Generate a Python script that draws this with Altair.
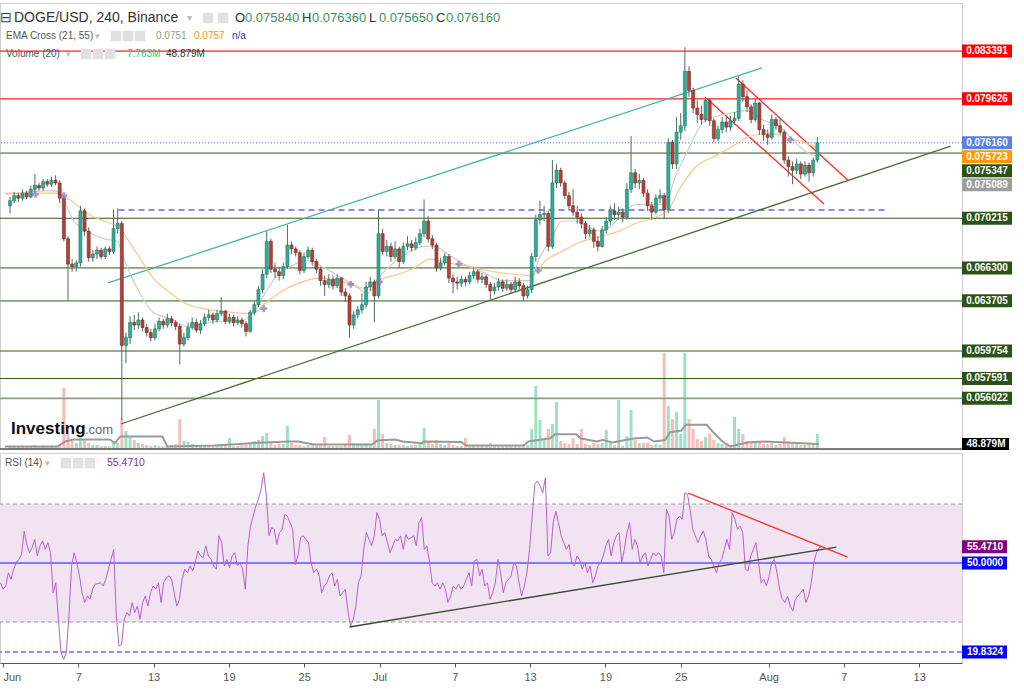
import altair as alt
import pandas as pd

alt.data_transformers.disable_max_rows()

# ---------------- data ----------------
T0 = pd.Timestamp("2022-06-01 00:00")
first_open = 0.0712
# 8-hour candles, three per day, from Jun 1
close = [
 0.0716,0.0720,0.0718, 0.0722,0.0719,0.0725, 0.0728,0.0726,0.0731, 0.0729,0.0732,0.0730,
 0.0718,0.0686,0.0666, 0.0664,0.0667,0.0708, 0.0692,0.0671,0.0674, 0.0677,0.0672,0.0678,
 0.0676,0.0694,0.0698, 0.0602,0.0608,0.0620, 0.0618,0.0622,0.0616, 0.0612,0.0608,0.0615,
 0.0621,0.0618,0.0623, 0.0620,0.0617,0.0603, 0.0608,0.0616,0.0620, 0.0614,0.0619,0.0624,
 0.0626,0.0622,0.0627, 0.0629,0.0621,0.0624, 0.0620,0.0622,0.0619, 0.0613,0.0628,0.0634,
 0.0646,0.0658,0.0684, 0.0662,0.0660,0.0657, 0.0664,0.0681,0.0678, 0.0675,0.0661,0.0672,
 0.0677,0.0668,0.0662, 0.0653,0.0650,0.0654, 0.0649,0.0655,0.0644, 0.0641,0.0618,0.0626,
 0.0630,0.0634,0.0648, 0.0652,0.0641,0.0690, 0.0676,0.0680,0.0672, 0.0678,0.0668,0.0680,
 0.0682,0.0679,0.0683, 0.0690,0.0700,0.0686, 0.0681,0.0663,0.0667, 0.0672,0.0655,0.0652,
 0.0651,0.0654,0.0652, 0.0657,0.0660,0.0654, 0.0656,0.0650,0.0645, 0.0648,0.0652,0.0647,
 0.0650,0.0646,0.0652, 0.0649,0.0641,0.0646, 0.0672,0.0701,0.0705, 0.0706,0.0680,0.0730,
 0.0740,0.0730,0.0720, 0.0712,0.0707,0.0703, 0.0698,0.0690,0.0693, 0.0684,0.0680,0.0693,
 0.0700,0.0708,0.0705, 0.0707,0.0703,0.0725, 0.0738,0.0730,0.0732, 0.0722,0.0712,0.0707,
 0.0718,0.0720,0.0709, 0.0762,0.0745,0.0770, 0.0775,0.0818,0.0803, 0.0789,0.0784,0.0780,
 0.0795,0.0779,0.0765, 0.0772,0.0778,0.0774, 0.0779,0.0781,0.0808, 0.0798,0.0790,0.0780,
 0.0793,0.0772,0.0768, 0.0766,0.0780,0.0775, 0.0770,0.0748,0.0743, 0.0740,0.0745,0.0737,
 0.0744,0.0738,0.0748, 0.07616,
]
high = [
 0.0719,0.0723,0.0722, 0.0725,0.0724,0.0728, 0.0737,0.0730,0.0733, 0.0733,0.0735,0.0736,
 0.0732,0.0719,0.0688, 0.0670,0.0669,0.0712, 0.0710,0.0695,0.0677, 0.0680,0.0679,0.0680,
 0.0680,0.0709,0.0710, 0.0700,0.0612,0.0625, 0.0626,0.0628,0.0624, 0.0619,0.0615,0.0619,
 0.0624,0.0623,0.0627, 0.0625,0.0622,0.0619, 0.0612,0.0620,0.0624, 0.0623,0.0622,0.0627,
 0.0630,0.0628,0.0630, 0.0640,0.0630,0.0627, 0.0626,0.0625,0.0624, 0.0621,0.0630,0.0637,
 0.0649,0.0662,0.0692, 0.0686,0.0667,0.0664, 0.0667,0.0697,0.0684, 0.0680,0.0677,0.0675,
 0.0680,0.0679,0.0670, 0.0664,0.0657,0.0658, 0.0657,0.0658,0.0656, 0.0647,0.0643,0.0629,
 0.0633,0.0643,0.0652, 0.0656,0.0654,0.0709, 0.0694,0.0685,0.0683, 0.0684,0.0680,0.0683,
 0.0688,0.0685,0.0687, 0.0694,0.0717,0.0704, 0.0689,0.0683,0.0671, 0.0675,0.0674,0.0658,
 0.0656,0.0657,0.0656, 0.0660,0.0664,0.0662, 0.0659,0.0658,0.0652, 0.0651,0.0655,0.0654,
 0.0654,0.0652,0.0656, 0.0655,0.0651,0.0649, 0.0675,0.0705,0.0716, 0.0712,0.0708,0.0748,
 0.0745,0.0742,0.0732, 0.0723,0.0725,0.0712, 0.0706,0.0700,0.0697, 0.0695,0.0688,0.0696,
 0.0703,0.0712,0.0714, 0.0711,0.0710,0.0730, 0.0767,0.0741,0.0737, 0.0734,0.0725,0.0715,
 0.0721,0.0725,0.0722, 0.0765,0.0764,0.0782, 0.0785,0.0837,0.0822, 0.0805,0.0795,0.0791,
 0.0798,0.0797,0.0781, 0.0775,0.0782,0.0782, 0.0783,0.0786,0.0814, 0.0811,0.0803,0.0792,
 0.0796,0.0794,0.0776, 0.0772,0.0784,0.0782, 0.0781,0.0772,0.0751, 0.0747,0.0749,0.0747,
 0.0747,0.0746,0.0750, 0.0766,
]
low = [
 0.0706,0.0714,0.0715, 0.0716,0.0717,0.0718, 0.0723,0.0724,0.0724, 0.0727,0.0727,0.0728,
 0.0714,0.0684,0.0637, 0.0660,0.0660,0.0664, 0.0688,0.0668,0.0668, 0.0670,0.0670,0.0670,
 0.0673,0.0674,0.0690, 0.0543,0.0588,0.0603, 0.0614,0.0615,0.0613, 0.0609,0.0605,0.0606,
 0.0613,0.0615,0.0616, 0.0617,0.0614,0.0587, 0.0601,0.0606,0.0614, 0.0612,0.0611,0.0617,
 0.0621,0.0619,0.0620, 0.0625,0.0619,0.0619, 0.0617,0.0618,0.0616, 0.0609,0.0612,0.0626,
 0.0632,0.0643,0.0655, 0.0659,0.0655,0.0653, 0.0654,0.0662,0.0674, 0.0672,0.0658,0.0659,
 0.0670,0.0665,0.0659, 0.0649,0.0641,0.0647, 0.0646,0.0647,0.0641, 0.0636,0.0608,0.0615,
 0.0623,0.0627,0.0631, 0.0645,0.0620,0.0639, 0.0673,0.0672,0.0668, 0.0670,0.0663,0.0666,
 0.0677,0.0676,0.0677, 0.0681,0.0687,0.0683, 0.0678,0.0660,0.0661, 0.0665,0.0651,0.0643,
 0.0646,0.0648,0.0649, 0.0650,0.0654,0.0651, 0.0651,0.0647,0.0638, 0.0642,0.0645,0.0644,
 0.0645,0.0643,0.0644, 0.0646,0.0637,0.0639, 0.0643,0.0668,0.0697, 0.0700,0.0676,0.0678,
 0.0726,0.0727,0.0717, 0.0709,0.0704,0.0698, 0.0694,0.0686,0.0687, 0.0679,0.0676,0.0679,
 0.0690,0.0697,0.0701, 0.0701,0.0699,0.0701, 0.0722,0.0726,0.0725, 0.0719,0.0708,0.0701,
 0.0705,0.0714,0.0702, 0.0706,0.0741,0.0741, 0.0764,0.0771,0.0798, 0.0785,0.0777,0.0776,
 0.0778,0.0775,0.0762, 0.0763,0.0769,0.0770, 0.0771,0.0776,0.0779, 0.0794,0.0786,0.0777,
 0.0778,0.0768,0.0763, 0.0760,0.0764,0.0772, 0.0768,0.0745,0.0735, 0.0729,0.0737,0.0733,
 0.0735,0.0731,0.0735, 0.0746,
]
volume_m = [
 30,25,30, 35,25,30, 40,30,35, 30,35,30,
 40,610,150, 80,60,120, 100,60,40, 40,30,30,
 30,80,60, 310,180,120, 90,60,50, 40,30,40,
 30,30,30, 40,50,300, 80,70,50, 40,30,40,
 30,40,30, 40,40,110, 30,30,40, 40,60,80,
 90,130,160, 60,40,50, 50,230,60, 40,40,30,
 40,50,40, 40,120,30, 30,30,30, 40,140,60,
 40,50,60, 40,200,490, 150,60,50, 40,40,40,
 30,40,40, 60,210,80, 50,90,50, 40,60,40,
 30,30,110, 30,40,30, 30,40,60, 40,30,30,
 30,30,40, 30,40,40, 200,630,290, 100,200,250,
 470,80,60, 50,110,50, 200,50,40, 60,50,60,
 190,70,40, 490,30,130, 390,90,60, 60,60,40,
 50,40,960, 430,300,370, 150,960,300, 200,100,80,
 120,150,90, 60,50,50, 40,320,200, 150,80,60,
 80,70,50, 50,60,40, 50,120,80, 60,50,40,
 40,50,60, 150,
]
# volume moving average (20), (day, millions)
vma_day = [-0.24, 3.98, 4.62, 5.26, 8.21, 8.61, 9.04, 12.43, 12.83, 16.65, 19.6, 22.55, 23.35, 24.62, 29.32,
           29.72, 31.16, 31.79, 33.31, 33.55, 36.49, 36.89, 41.51, 41.91, 43.67, 44.06, 45.74, 46.14, 47.41,
           47.89, 48.69, 49.08, 50.36, 51.47, 52.03, 52.91, 53.31, 54.18, 54.58, 56.25, 56.73, 57.53, 58.17,
           58.8, 59.68, 60.96, 63.9, 65.3]
vma_val = [25, 25, 75, 95, 95, 58, 125, 125, 25, 35, 58, 75, 75, 45, 45,
           85, 95, 75, 58, 75, 70, 35, 35, 75, 108, 148, 148, 105, 75,
           90, 65, 75, 105, 115, 75, 90, 168, 182, 242, 242, 175, 75, 25,
           45, 68, 75, 58, 48.879]
# EMA 55 (orange) and EMA 21 (grey), (day, price)
ema55_day = [-0.2, 3.8, 4.4, 5.1, 6.4, 7.7, 8.9, 10.4, 11.7, 13.1, 14.3, 15.7, 17.1, 19.7, 20.7, 22.1, 23.4,
             25.0, 26.1, 27.4, 28.7, 30.0, 31.4, 32.7, 34.0, 35.4, 36.7, 38.0, 39.8, 42.2, 43.3, 44.6, 46.0,
             47.8, 49.2, 50.5, 51.8, 53.1, 54.0, 55.3, 56.9, 58.2, 59.8, 61.4, 62.9, 64.1, 65.3]
ema55_val = [0.0722, 0.0722, 0.0720, 0.0716, 0.0706, 0.0700, 0.0695, 0.0674, 0.0655, 0.0643, 0.0635, 0.0631,
             0.0629, 0.0627, 0.0635, 0.0645, 0.0651, 0.0655, 0.0654, 0.0651, 0.0647, 0.0654, 0.0658, 0.0663,
             0.0670, 0.0667, 0.0665, 0.0662, 0.0659, 0.0657, 0.0669, 0.0676, 0.0683, 0.0688, 0.0692, 0.0698,
             0.0702, 0.0708, 0.0724, 0.0742, 0.0751, 0.0758, 0.0767, 0.0769, 0.0765, 0.0762, 0.0757]
ema21_day = [-0.2, 3.8, 4.4, 5.3, 6.4, 7.7, 8.8, 9.3, 10.4, 11.7, 13.1, 14.3, 15.7, 17.1, 18.3, 19.7, 20.7,
             21.5, 22.9, 24.2, 25.5, 26.9, 28.2, 29.0, 29.8, 30.8, 32.2, 33.5, 34.3, 35.4, 36.7, 38.0, 39.8,
             42.0, 42.8, 43.8, 44.6, 45.7, 46.8, 47.8, 49.2, 50.5, 51.8, 52.9, 53.7, 54.7, 56.1, 57.7, 59.5,
             60.9, 61.9, 63.5, 64.5, 65.3]
ema21_val = [0.0721, 0.0724, 0.0718, 0.0700, 0.0692, 0.0686, 0.0684, 0.0671, 0.0647, 0.0628, 0.0623, 0.0617,
             0.0619, 0.0621, 0.0620, 0.0627, 0.0643, 0.0655, 0.0665, 0.0669, 0.0663, 0.0655, 0.0647, 0.0643,
             0.0655, 0.0665, 0.0675, 0.0680, 0.0680, 0.0674, 0.0666, 0.0661, 0.0653, 0.0653, 0.0671, 0.0687,
             0.0700, 0.0700, 0.0695, 0.0692, 0.0702, 0.0713, 0.0713, 0.0713, 0.0734, 0.0755, 0.0779, 0.0784,
             0.0787, 0.0779, 0.0776, 0.0761, 0.0753, 0.0751]
cross_day = [2.2, 4.5, 20.6, 27.6, 29.9, 36.3, 42.7, 63.0]
cross_val = [0.0721, 0.0720, 0.0631, 0.0650, 0.0652, 0.0666, 0.0661, 0.0764]

# RSI(14), regular samples from May 31 19:12 every 302 minutes
rsi = [
 43.3,41.1,42.2,46.7,44.5,47.9,50.1,51.2,52.9,60.8,56.3,53.5,55.2,58.0,52.4,55.8,57.5,54.6,56.9,53.5,
 39.9,43.3,30.9,19.6,17.3,19.6,32.0,49.0,53.5,50.1,45.6,39.9,36.6,38.8,37.7,41.1,42.8,43.0,43.3,42.2,
 44.5,47.9,51.2,54.6,32.0,21.9,22.4,30.9,33.2,32.0,36.6,33.2,35.4,30.9,36.6,38.8,35.4,39.9,42.2,41.1,
 43.3,36.6,43.3,45.0,45.6,44.5,39.9,35.4,37.7,44.5,47.9,46.7,49.0,47.3,50.1,54.1,52.4,51.8,55.8,52.4,
 51.2,49.0,47.9,59.2,56.9,49.0,51.2,48.4,52.4,53.5,49.0,50.1,47.9,41.1,55.8,62.5,65.9,69.3,71.6,75.0,
 80.6,72.7,59.2,62.0,61.4,56.3,60.3,61.4,66.5,65.9,63.7,61.4,49.5,52.4,58.6,59.2,58.0,56.9,50.1,46.7,
 47.9,46.2,39.9,42.2,43.3,45.6,46.7,42.2,44.5,38.8,39.9,41.1,33.7,28.6,30.9,35.4,43.3,45.6,54.6,60.3,
 58.0,55.8,59.2,67.1,64.8,59.2,60.3,56.9,53.5,55.8,58.0,57.5,59.2,54.6,59.7,58.0,58.6,59.2,55.8,63.7,
 65.4,54.6,55.8,50.1,43.3,42.2,43.3,41.1,43.3,41.1,36.6,38.8,42.2,41.1,42.8,41.1,42.2,44.5,46.7,42.2,
 50.7,51.2,45.6,47.9,42.2,43.3,37.7,39.9,43.3,51.2,46.7,39.9,43.3,44.5,45.6,50.1,49.0,43.3,38.8,42.2,
 46.7,54.6,65.9,76.7,77.8,76.1,73.8,78.9,52.4,53.5,63.7,67.6,63.7,59.2,56.9,54.6,56.3,50.1,49.0,52.4,
 51.2,47.9,50.1,46.7,49.0,43.3,45.6,49.0,50.1,52.4,55.8,58.0,52.4,56.9,59.2,60.3,50.1,54.6,60.3,63.7,
 54.6,58.0,55.8,50.1,52.4,53.5,49.0,51.2,53.5,52.4,53.5,52.4,46.7,68.2,65.9,58.0,60.3,64.8,65.9,64.8,
 73.8,73.3,68.2,61.4,59.2,56.9,59.2,60.8,58.0,52.4,51.2,49.0,46.7,50.1,51.2,54.6,58.0,54.6,67.1,64.8,
 61.4,62.5,60.3,47.9,47.3,52.4,54.6,56.9,50.1,43.3,44.5,42.2,45.6,50.1,51.2,46.7,41.1,37.7,36.6,38.8,
 35.4,33.7,37.7,38.8,39.9,41.1,36.6,38.8,43.3,50.1,53.5,55.2,55.471,
]

# horizontal levels
red_levels = [0.083391, 0.079626]
green_dark_levels = [0.070215, 0.059754, 0.057591]
green_light_levels = [0.075347, 0.066300, 0.063705, 0.056022]
last_price = 0.076160
blue_dash_level = 0.07087
blue_dash_days = [8.9, 70.9]

# trend lines (day, price) pairs
trend_id = ["teal", "teal", "green", "green", "redup", "redup", "redlo", "redlo"]
trend_col = ["#45b7a0", "#45b7a0", "#4d6b3c", "#4d6b3c", "#ff2a2a", "#ff2a2a", "#ff2a2a", "#ff2a2a"]
trend_day = [8.05, 60.7, 9.08, 75.9, 58.6, 67.7, 56.3, 65.7]
trend_val = [0.06512, 0.08206, 0.0540, 0.07591, 0.08127, 0.07316, 0.07962, 0.07134]
rsi_trend_id = ["black", "black", "red", "red"]
rsi_trend_col = ["#3b4a36", "#3b4a36", "#ff3030", "#ff3030"]
rsi_trend_day = [27.6, 66.4, 54.6, 67.3]
rsi_trend_val = [28.3, 55.4, 73.7, 52.0]

# right-axis value labels
price_label_vals = [0.083391, 0.079626, 0.076160, 0.075723, 0.075347, 0.075089, 0.070215,
                    0.066300, 0.063705, 0.059754, 0.057591, 0.056022]
price_label_cols = ["#ff0000", "#ff0000", "#5b80e8", "#ff9800", "#2b5217", "#9e9e9e", "#2b5217",
                    "#2b5217", "#2b5217", "#2b5217", "#2b5217", "#2b5217"]
rsi_label_vals = [55.4710, 50.0, 19.8324]
rsi_label_cols = ["#800080", "#0000ff", "#0000ff"]
vol_label_val = 48.879

title_main = "DOGE/USD, 240, Binance"
ohlc_keys = ["O", "H", "L", "C"]
ohlc_vals = ["0.075840", "0.076360", "0.075650", "0.076160"]

x_tick_days = [0, 6, 12, 18, 24, 30, 36, 42, 48, 54, 61, 67, 73]

# ---------------- build tables ----------------
def tstamp(day):
    return T0 + pd.Timedelta(hours=day * 24)

opens = [first_open] + close[:-1]
cd = pd.DataFrame({
    "t": [T0 + pd.Timedelta(hours=8 * i + 4) for i in range(len(close))],
    "open": opens, "close": close,
})
cd["high"] = [max(h, o, c) for h, o, c in zip(high, opens, close)]
cd["low"] = [min(l, o, c) for l, o, c in zip(low, opens, close)]
cd["up"] = cd["close"] >= cd["open"]
cd["vol"] = volume_m

vma = pd.DataFrame({"t": [tstamp(d) for d in vma_day], "v": vma_val})
e55 = pd.DataFrame({"t": [tstamp(d) for d in ema55_day], "p": ema55_val})
e21 = pd.DataFrame({"t": [tstamp(d) for d in ema21_day], "p": ema21_val})
crs = pd.DataFrame({"t": [tstamp(d) for d in cross_day], "p": cross_val})
rsi_df = pd.DataFrame({"t": pd.date_range("2022-05-31 19:12", periods=len(rsi), freq="302min"), "r": rsi})

tr = pd.DataFrame({"id": trend_id, "col": trend_col, "t": [tstamp(d) for d in trend_day], "p": trend_val})
rtr = pd.DataFrame({"id": rsi_trend_id, "col": rsi_trend_col, "t": [tstamp(d) for d in rsi_trend_day],
                    "r": rsi_trend_val})

PMIN, PMAX = 0.052030, 0.087182
TOP_H, BOT_H, W = 446, 210, 962
gap = 14 * (PMAX - PMIN) / TOP_H
order = sorted(range(len(price_label_vals)), key=lambda i: -price_label_vals[i])
pos, prev = {}, None
for i in order:
    v = price_label_vals[i]
    p = v if prev is None else min(v, prev - gap)
    pos[i] = p
    prev = p
plab = pd.DataFrame({
    "pos": [pos[i] for i in range(len(price_label_vals))],
    "txt": [f"{v:.6f}" for v in price_label_vals],
    "col": price_label_cols,
})
rlab = pd.DataFrame({"pos": rsi_label_vals, "txt": [f"{v:.4f}" for v in rsi_label_vals], "col": rsi_label_cols})

FONT = "Liberation Sans"
XDOM = [alt.DateTime(year=2022, month=5, date=31, hours=18, minutes=16),
        alt.DateTime(year=2022, month=8, date=16, hours=9, minutes=50)]
xs = alt.Scale(domain=XDOM)
ys = alt.Scale(domain=[PMIN, PMAX], nice=False, zero=False)
rs = alt.Scale(domain=[16.1, 87.29], nice=False, zero=False)
vs = alt.Scale(domain=[0, 4460], nice=False)


def X(f="t"):
    return alt.X(f"{f}:T", scale=xs, axis=None)


def P(f="p", axis=None):
    return alt.Y(f"{f}:Q", scale=ys, axis=axis)


one = pd.DataFrame({"a": [0]})

# ---------------- top panel ----------------
price_axis = alt.Axis(orient="right", values=[round(0.054 + 0.002 * k, 3) for k in range(17)], format=".6f",
                      grid=False, labelColor="#555", labelFont=FONT, labelFontSize=10, tickSize=4,
                      tickColor="#555", domainColor="#555", labelPadding=3, title=None)

levels = pd.DataFrame({
    "p": red_levels + green_dark_levels + green_light_levels,
    "col": ["#ff2020"] * len(red_levels) + ["#2e5a1c"] * len(green_dark_levels)
           + ["#8aa27c"] * len(green_light_levels),
    "w": [1.1] * len(red_levels) + [1.1] * len(green_dark_levels) + [1.7] * len(green_light_levels),
})
lev_rules = alt.Chart(levels).mark_rule().encode(
    y=P("p", price_axis),
    color=alt.Color("col:N", scale=None),
    strokeWidth=alt.StrokeWidth("w:Q", scale=None),
)
last_rule = alt.Chart(pd.DataFrame({"p": [last_price]})).mark_rule(
    color="#3f63e6", strokeDash=[1, 2], strokeWidth=1).encode(y=P())
blue_dash = alt.Chart(pd.DataFrame({"t": [tstamp(blue_dash_days[0])], "t2": [tstamp(blue_dash_days[1])],
                                    "p": [blue_dash_level]})).mark_rule(
    color="#6464ff", strokeDash=[6, 4], strokeWidth=1.5).encode(x=X(), x2="t2:T", y=P())

trends = alt.Chart(tr).mark_line(strokeWidth=1.3).encode(
    x=X(), y=P(), detail="id:N", color=alt.Color("col:N", scale=None))

ema55 = alt.Chart(e55).mark_line(color="#ffc58a", strokeWidth=1.2, interpolate="monotone").encode(x=X(), y=P())
ema21 = alt.Chart(e21).mark_line(color="#cdcdcd", strokeWidth=1.2, interpolate="monotone").encode(x=X(), y=P())

wicks = alt.Chart(cd).mark_rule(color="#4f6d5c", strokeWidth=1).encode(x=X(), y=P("low"), y2="high:Q")
bodies = alt.Chart(cd).mark_bar(size=3, strokeWidth=0.6).encode(
    x=X(), y=P("open"), y2="close:Q",
    fill=alt.condition("datum.up", alt.value("#22b39a"), alt.value("#b5403a")),
    stroke=alt.condition("datum.up", alt.value("#2d6b58"), alt.value("#6e2a22")),
)
crosses = alt.Chart(crs).mark_point(shape="cross", filled=True, size=45, color="#7d70c0").encode(x=X(), y=P())

plab_rules = alt.Chart(plab).mark_rule(strokeWidth=13).encode(
    x=alt.value(W), x2=alt.value(W + 50), y=P("pos"), color=alt.Color("col:N", scale=None))
plab_text = alt.Chart(plab).mark_text(color="white", fontSize=10, fontWeight="bold", font=FONT,
                                      align="center", baseline="middle").encode(
    x=alt.value(W + 25), y=P("pos"), text="txt:N")


def txt(s, x, y, size=11, color="#555", weight="normal", align="left", baseline="middle"):
    return alt.Chart(one).mark_text(text=s, fontSize=size, color=color, fontWeight=weight, font=FONT,
                                    align=align, baseline=baseline).encode(x=alt.value(x), y=alt.value(y))


def icons(xs_, y):
    return alt.Chart(pd.DataFrame({"x": xs_})).mark_point(shape="square", filled=True, size=110,
                                                          color="#e1e1e1", opacity=1).encode(
        x=alt.X("x:Q", scale=None, axis=None), y=alt.value(y))


header = [
    txt("⊟", 0, 15, 14, "#444"),
    txt(title_main, 14, 15, 14, "#333"),
    txt("▾", 187, 15, 10, "#bbb"),
    icons([208, 223], 15),
]
ox = 235
for k, v in zip(ohlc_keys, ohlc_vals):
    header.append(txt(k, ox, 15, 13, "#333"))
    header.append(txt(v, ox + 10, 15, 13, "#3f9160"))
    ox += 67
header += [
    txt("EMA Cross (21, 55)", 6, 33, 10, "#555"),
    txt("▾", 95, 33, 9, "#bbb"),
    icons([116, 128, 140], 33),
    txt("0.0751", 156, 33, 10, "#999"),
    txt("0.0757", 194, 33, 10, "#ff9800"),
    txt("n/a", 232, 33, 10, "#3535b5"),
    txt("Volume (20)", 6, 51, 10, "#555"),
    txt("▾", 66, 51, 9, "#bbb"),
    icons([86, 98, 110], 51),
    txt("7.763M", 127, 51, 10, "#2dc68c"),
    txt("48.879M", 166, 51, 10, "#333"),
    txt("Investing", 11, 431, 17, "#111", "bold", baseline="alphabetic"),
    txt(".com", 85, 431, 13, "#666", baseline="alphabetic"),
]

price_layer = alt.layer(lev_rules, last_rule, blue_dash, trends, ema21, ema55, wicks, bodies, crosses,
                        plab_rules, plab_text, *header)

vol_bars = alt.Chart(cd).mark_bar(size=3, opacity=0.75).encode(
    x=X(), y=alt.Y("vol:Q", scale=vs, axis=None),
    color=alt.condition("datum.up", alt.value("#7fd6b2"), alt.value("#f5a5a2")))
vol_ma = alt.Chart(vma).mark_line(color="#9a9a9a", strokeWidth=2).encode(
    x=X(), y=alt.Y("v:Q", scale=vs, axis=None))
vol_lab_r = alt.Chart(pd.DataFrame({"v": [vol_label_val]})).mark_rule(color="black", strokeWidth=12).encode(
    x=alt.value(W), x2=alt.value(W + 47), y=alt.Y("v:Q", scale=vs, axis=None))
vol_lab_t = alt.Chart(pd.DataFrame({"v": [vol_label_val], "s": ["48.879M"]})).mark_text(
    color="white", fontSize=10, font=FONT, fontWeight="bold", align="center", baseline="middle").encode(
    x=alt.value(W + 24), y=alt.Y("v:Q", scale=vs, axis=None), text="s:N")
vol_layer = alt.layer(vol_bars, vol_ma, vol_lab_r, vol_lab_t)

top_xaxis = alt.Chart(one).mark_rule(color="#555", strokeWidth=1.5).encode(
    x=alt.value(0), x2=alt.value(W), y=alt.value(TOP_H))

top = alt.layer(vol_layer, price_layer, top_xaxis).resolve_scale(y="independent").properties(
    width=W, height=TOP_H)

# ---------------- RSI panel ----------------
def R(f="r", axis=None):
    return alt.Y(f"{f}:Q", scale=rs, axis=axis)


rsi_axis = alt.Axis(orient="right", values=[30, 40, 50, 60, 70, 80], format=".4f", grid=False,
                    labelColor="#555", labelFont=FONT, labelFontSize=10, tickSize=4, tickColor="#555",
                    domainColor="#555", labelPadding=3, title=None)

tick_dt = [alt.DateTime(year=2022, month=tstamp(d).month, date=tstamp(d).day) for d in x_tick_days]
bottom_axis = alt.Axis(
    orient="bottom", values=tick_dt, title=None, grid=False, labelColor="#555", labelFont=FONT,
    labelFontSize=11, tickSize=4, tickColor="#555", domainColor="#555", labelPadding=4, labelFlush=6,
    labelExpr="date(datum.value) == 1 ? timeFormat(datum.value, '%b') : timeFormat(datum.value, '%-d')")


def XB(f="t"):
    return alt.X(f"{f}:T", scale=xs, axis=bottom_axis)


band = alt.Chart(pd.DataFrame({"a1": [70], "a2": [30]})).mark_rect(color="#f1e3f1").encode(
    y=R("a1", rsi_axis), y2="a2:Q")
dash_lines = alt.Chart(pd.DataFrame({"r": [70, 30]})).mark_rule(color="#9a9a9a", strokeDash=[4, 3],
                                                                 strokeWidth=1).encode(y=R())
mid_line = alt.Chart(pd.DataFrame({"r": [50]})).mark_rule(color="#1010ff", strokeWidth=1).encode(y=R())
low_line = alt.Chart(pd.DataFrame({"r": [19.8324]})).mark_rule(color="#6b6bff", strokeDash=[5, 3],
                                                                strokeWidth=1.5).encode(y=R())
rsi_line = alt.Chart(rsi_df).mark_line(color="#b463c8", strokeWidth=1).encode(x=XB(), y=R())
rsi_tr = alt.Chart(rtr).mark_line(strokeWidth=1.3).encode(
    x=XB(), y=R(), detail="id:N", color=alt.Color("col:N", scale=None))
rlab_rules = alt.Chart(rlab).mark_rule(strokeWidth=13).encode(
    x=alt.value(W), x2=alt.value(W + 45), y=R("pos"), color=alt.Color("col:N", scale=None))
rlab_text = alt.Chart(rlab).mark_text(color="white", fontSize=10, fontWeight="bold", font=FONT,
                                      align="center", baseline="middle").encode(
    x=alt.value(W + 23), y=R("pos"), text="txt:N")
rsi_head = [
    txt("RSI (14)", 5, 10, 10, "#555"),
    txt("▾", 45, 10, 9, "#bbb"),
    icons([66, 78, 90], 10),
    txt("55.4710", 107, 10, 10.5, "#9b2a9b"),
]
bottom = alt.layer(band, dash_lines, mid_line, low_line, rsi_line, rsi_tr, rlab_rules, rlab_text,
                   *rsi_head).properties(width=W, height=BOT_H)

chart = alt.vconcat(top, bottom, spacing=4, bounds="flush").properties(
    padding={"left": -3, "top": 2, "right": 0, "bottom": 0},
    background="white",
).configure_view(stroke="#cfcfcf", strokeWidth=1)

chart.save("out.html", embed_options={"renderer": "svg", "actions": False})
